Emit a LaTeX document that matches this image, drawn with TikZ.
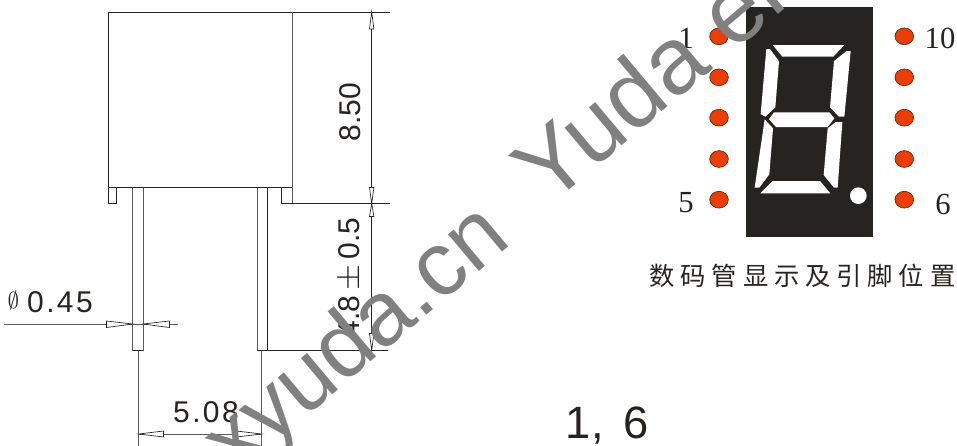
\documentclass[tikz,border=0pt]{standalone}
\usepackage{fontspec}
\setmainfont{Liberation Sans}
\newfontfamily\serifnum{Liberation Serif}
\newfontfamily\cjk[LetterSpace=23]{Noto Sans CJK SC}
\newfontfamily\spaced[LetterSpace=8]{Liberation Sans}
\definecolor{ink}{HTML}{262320}
\definecolor{pin}{HTML}{EE3D00}
\definecolor{wm}{HTML}{808080}
\tikzset{
  dwg/.style={draw=ink,line width=0.7pt},
  thinline/.style={draw=ink!75,line width=0.7pt},
  opentip/.style={draw=ink,line width=0.5pt,fill=white},
  dimtext/.style={text=ink,font=\fontsize{22.5}{27}\selectfont,inner sep=0pt},
  spacedtext/.style={text=ink,font=\spaced\fontsize{22.5}{27}\selectfont,inner sep=0pt},
  pinlabel/.style={text=ink,font=\serifnum\fontsize{23}{27}\selectfont,inner sep=0pt},
  pindot/.style={draw=ink,line width=0.4pt,fill=pin,ellipse,minimum width=14pt,minimum height=12.6pt,inner sep=0pt},
  watermark/.style={text=wm,font=\fontsize{71}{80}\selectfont,inner sep=0pt,rotate=40,anchor=base west},
  segment/.style={fill=white,draw=none}
}
\usetikzlibrary{shapes.geometric}
\begin{document}
\begin{tikzpicture}[x=0.75pt,y=-0.75pt]
\useasboundingbox (0,0) rectangle (957,446);
\clip (0,0) rectangle (957,446);
% package outline
\draw[dwg] (108.3,187.5) -- (108.3,12) -- (390,12);
\draw[dwg] (108.3,187.5) -- (292,187.5);
\draw[thinline] (292,12) -- (292,203.5);
\draw[dwg] (108.3,187.5) -- (108.3,203.5) -- (116.7,203.5) -- (116.7,187.5);
\draw[dwg] (281.5,187.5) -- (281.5,203.5) -- (390,203.5);
% leads
\draw[thinline] (132.7,187.5) -- (132.7,350.5);
\draw[thinline] (143,187.5) -- (143,350.5);
\draw[dwg] (132.7,350.5) -- (143,350.5);
\draw[thinline] (257,187.5) -- (257,350.5);
\draw[dwg] (267.3,187.5) -- (267.3,350.5);
\draw[dwg] (257,350.5) -- (388,350.5);
% dimension lines
\draw[dwg] (371.7,12) -- (371.7,350.5);
\foreach \ya/\yb in {12/29, 203.5/187.5, 203.5/216.5, 350.5/333.5}
  \draw[opentip] (371.7,\ya) -- (369.5,\yb) -- (373.9,\yb) -- cycle;
\draw[thinline] (138.7,350.5) -- (138.7,446);
\draw[thinline] (261.5,350.5) -- (261.5,446);
\draw[thinline] (138.7,434) -- (261.5,434);
\draw[opentip] (138.7,434) -- (163.5,431) -- (163.5,437) -- cycle;
\draw[opentip] (261.5,434) -- (236.5,431) -- (236.5,437) -- cycle;
\draw[thinline] (4,324) -- (178,324);
\draw[opentip] (132.7,324) -- (106.5,321) -- (106.5,327.5) -- cycle;
\draw[opentip] (143,324) -- (169.5,321) -- (169.5,327.5) -- cycle;
% dimension texts
\node[dimtext,rotate=90] (d850) at (350,112) {8.50};
\node[dimtext,rotate=90] (d48) at (350,277.5) {4.8\,\scalebox{1.2}{$\pm$}\,0.5};
\node[spacedtext] (d045) at (60,302.5) {0.45};
\node[text=ink,inner sep=0pt,font=\fontsize{18}{20}\selectfont] (dphi) at (13.5,300.5) {$\emptyset$};
\node[spacedtext] (d508) at (206,412) {5.08};
\node[text=ink,inner sep=0pt,font=\fontsize{34}{40}\selectfont] (lbl16) at (607.5,426) {1,\hspace{0.45em}6};
% display body
\fill[ink] (746,7.3) rectangle (873,236.7);
\begin{scope}[shift={(650,0)},x=0.25pt,y=-0.25pt]
\fill[segment] (368,135) -- (583,135) -- (550,170) -- (397,170) -- cycle;
\fill[segment] (349,147) -- (360,147) -- (387,184) -- (376,322) -- (346,350) -- (332,342) -- cycle;
\fill[segment] (602,153) -- (590,153) -- (552,183) -- (540,322) -- (567,350) -- (583,350) -- cycle;
\fill[segment] (372,337) -- (538,337) -- (553,355) -- (533,381) -- (378,381) -- (357,358) -- cycle;
\fill[segment] (344,358) -- (369,385) -- (358,523) -- (328,563) -- (314,563) -- cycle;
\fill[segment] (577,366) -- (557,366) -- (533,385) -- (521,525) -- (552,563) -- (563,563) -- cycle;
\fill[segment] (368,543) -- (510,543) -- (541,580) -- (331,580) -- cycle;
\fill[segment] (625,587) circle (25);
\end{scope}
% pins
\node[pindot] (p1) at (719,36.3) {};
\node[pindot] (p2) at (719,77.3) {};
\node[pindot] (p3) at (719,117.7) {};
\node[pindot] (p4) at (719,159) {};
\node[pindot] (p5) at (719,199.7) {};
\node[pindot] (p10) at (904.3,36.3) {};
\node[pindot] (p9) at (904.3,77.3) {};
\node[pindot] (p8) at (904.3,117.7) {};
\node[pindot] (p7) at (904.3,159) {};
\node[pindot] (p6) at (904.3,199.7) {};
\node[pinlabel] (l1) at (686,38.5) {1};
\node[pinlabel] (l5) at (686,203) {5};
\node[pinlabel] (l10) at (940,38) {10};
\node[pinlabel] (l6) at (943,204) {6};
\node[text=ink,inner sep=0pt,font=\cjk\fontsize{19}{23}\selectfont] (cap) at (802.5,275.5) {数码管显示及引脚位置};
% watermark
\node[watermark] (wm1) at (548,208) {Yuda electronics};
\node[watermark,font=\fontsize{68}{80}\selectfont,anchor=base east] (wm2) at (513,243) {www.xyuda.cn};
\end{tikzpicture}
\end{document}
